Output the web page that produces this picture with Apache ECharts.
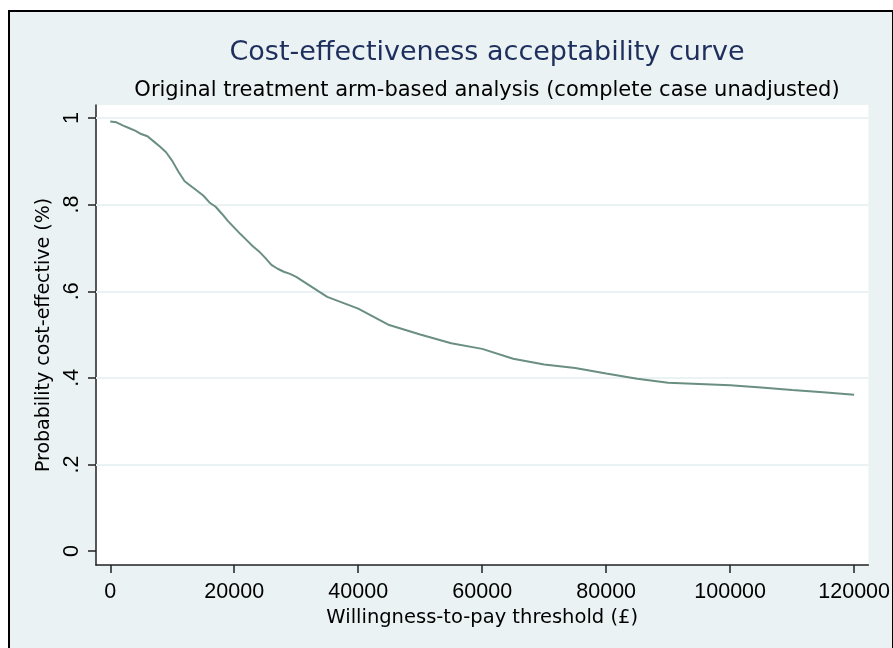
<!DOCTYPE html>
<html>
<head>
<meta charset="utf-8">
<script src="https://cdn.jsdelivr.net/npm/echarts@6/dist/echarts.min.js"></script>
<style>
html,body{margin:0;padding:0;background:#ffffff;}
#c{width:893px;height:648px;}
</style>
</head>
<body>
<div id="c"></div>
<script>
// Willingness-to-pay thresholds (£)
const wtp = [0,1000,2000,3000,4000,5000,6000,7000,8000,9000,10000,11000,12000,13000,14000,15000,16000,17000,18000,19000,20000,21000,22000,23000,24000,25000,26000,27000,28000,29000,30000,35000,40000,45000,50000,55000,60000,65000,70000,75000,80000,85000,90000,95000,100000,105000,110000,115000,120000];
// Probability cost-effective
const prob = [0.992,0.990,0.983,0.977,0.971,0.963,0.958,0.946,0.934,0.921,0.901,0.876,0.854,0.843,0.832,0.821,0.805,0.795,0.779,0.762,0.747,0.732,0.718,0.704,0.692,0.677,0.661,0.652,0.645,0.640,0.633,0.587,0.560,0.522,0.500,0.480,0.467,0.444,0.431,0.423,0.410,0.398,0.389,0.386,0.383,0.378,0.372,0.367,0.361];
const xTicks = [0,20000,40000,60000,80000,100000,120000];
const yTicks = [0,0.2,0.4,0.6,0.8,1];
const yTickLabels = ['0','.2','.4','.6','.8','1'];
const gridValues = [0.2,0.4,0.6,0.8,1];

const titleText = 'Cost-effectiveness acceptability curve';
const subtitleText = 'Original treatment arm-based analysis (complete case unadjusted)';
const xName = 'Willingness-to-pay threshold (£)';
const yName = 'Probability cost-effective (%)';

const font = 'Liberation Sans, Arial, sans-serif';
const wideFont = 'DejaVu Sans, sans-serif';
const chart = echarts.init(document.getElementById('c'), null, {renderer:'canvas'});
chart.setOption({
  animation:false,
  backgroundColor:'#ffffff',
  graphic:[
    {type:'rect', left:8, top:10, shape:{x:0,y:0,width:884,height:660}, style:{fill:'#EAF2F3', stroke:'#000000', lineWidth:2}, z:-10, silent:true}
  ],
  title:[
    {text:titleText, left:482, top:34, textAlign:'center',
     textStyle:{fontFamily:wideFont, fontSize:27, fontWeight:'normal', color:'#1E2F5E'}},
    {text:subtitleText, left:482, top:75, textAlign:'center',
     textStyle:{fontFamily:wideFont, fontSize:21, fontWeight:'normal', color:'#000000'}}
  ],
  grid:{left:96, right:24, top:105, bottom:83, show:true, backgroundColor:'#ffffff', borderWidth:0, containLabel:false},
  xAxis:{
    type:'value', min:-2300, max:122300,
    name:xName, nameLocation:'middle', nameGap:35,
    nameTextStyle:{fontFamily:wideFont, fontSize:19.5, color:'#000'},
    axisLine:{show:true, onZero:false, lineStyle:{color:'#222', width:1.5}},
    axisTick:{show:true, length:8, customValues:xTicks, lineStyle:{color:'#222', width:1.5}},
    axisLabel:{customValues:xTicks, margin:16, fontFamily:font, fontSize:21.5, color:'#000', formatter:v=>String(v)},
    splitLine:{show:false}
  },
  yAxis:{
    type:'value', min:-0.032, max:1.03,
    name:yName, nameLocation:'middle', nameGap:40, nameRotate:90,
    nameTextStyle:{fontFamily:wideFont, fontSize:19, color:'#000'},
    axisLine:{show:true, onZero:false, lineStyle:{color:'#222', width:1.5}},
    axisTick:{show:true, length:8, customValues:yTicks, lineStyle:{color:'#222', width:1.5}},
    axisLabel:{customValues:yTicks, rotate:90, margin:13, fontFamily:font, fontSize:21.5, color:'#000',
      formatter:v=>{const i=yTicks.findIndex(t=>Math.abs(t-v)<1e-6); return i>=0?yTickLabels[i]:'';}},
    splitLine:{show:false}
  },
  series:[{
    type:'line', data:wtp.map((w,i)=>[w,prob[i]]), showSymbol:false, symbol:'none',
    lineStyle:{color:'#6A8F80', width:2}, z:5,
    markLine:{silent:true, symbol:'none', label:{show:false}, z:1,
      lineStyle:{color:'#EAF2F3', width:2, type:'solid'},
      data:gridValues.map(v=>({yAxis:v}))}
  }]
});
</script>
</body>
</html>
